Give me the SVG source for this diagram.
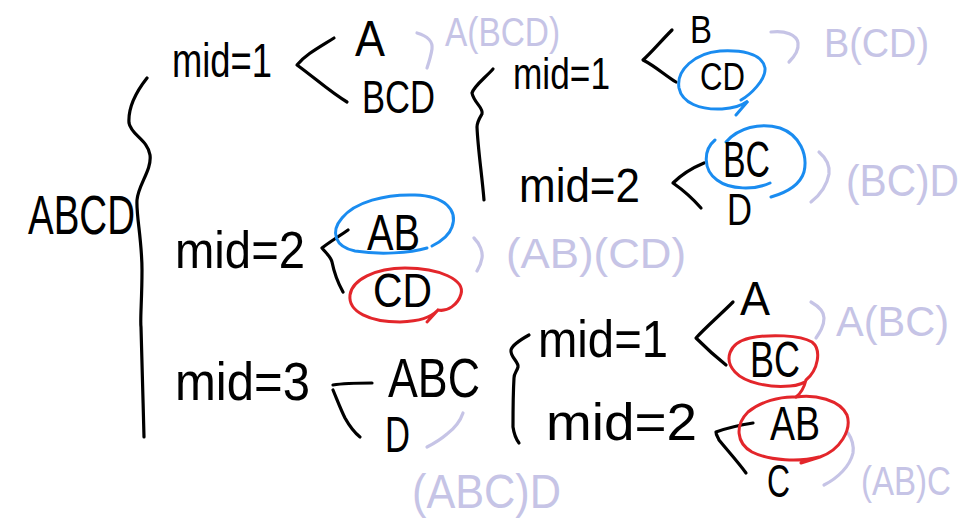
<svg xmlns="http://www.w3.org/2000/svg" width="972" height="519" viewBox="0 0 972 519">
<style>
.t{font-family:"Liberation Sans","DejaVu Sans",sans-serif;fill:#000}
.l{font-family:"Liberation Sans","DejaVu Sans",sans-serif;fill:#c6c4e6}
.s{fill:none;stroke:#000;stroke-width:3.2;stroke-linecap:round;stroke-linejoin:round}
.p{fill:none;stroke:#c6c4e6;stroke-width:3.2;stroke-linecap:round;stroke-linejoin:round}
.b{fill:none;stroke:#1a8cf0;stroke-width:3;stroke-linecap:round}
.r{fill:none;stroke:#e3262b;stroke-width:3;stroke-linecap:round}
</style>
<rect width="972" height="519" fill="#fff"/>
<g id="connectors">
<path class="s" d="M147,78 C136,92 128,108 129,123 C131,135 148,140 150,155 C152,170 138,185 137,200 C136,215 142,240 142,270 C142,300 140,320 141,327 C142,360 143,400 144,437"/>
<path class="s" d="M334,38 C318,48 305,55 297,65 C315,78 330,92 347,102"/>
<path class="s" d="M493,69 C485,78 474,86 472,93 C474,103 484,108 482,114 C479,119 477,122 477,127 C478,150 482,175 484,200"/>
<path class="s" d="M672,30 C660,42 652,52 643,60 C655,66 666,76 676,82"/>
<path class="s" d="M704,163 C692,168 680,176 673,183 C683,190 694,200 701,208"/>
<path class="s" d="M348,230 C338,237 328,243 322,248 C326,253 331,257 332,262 C334,272 338,283 343,292"/>
<path class="s" d="M333,385 C345,383 358,383 372,383"/>
<path class="s" d="M333,390 C338,402 341,410 345,418 C350,427 355,433 360,437"/>
<path class="s" d="M529,335 C520,340 512,345 511,350 C510,357 519,362 518,367 C517,371 514,373 514,378 C513,395 513,412 513,427 C514,434 516,439 519,443"/>
<path class="s" d="M733,302 C720,315 705,328 696,338 C706,348 716,357 726,365"/>
<path class="s" d="M753,423 C740,425 727,428 716,432 C716,435 718,437 719,440 C728,451 738,462 746,473"/>
<path class="p" d="M417,33 C428,36 433,42 432,49 C431,56 429,62 427,68"/>
<path class="p" d="M771,32 C785,30 797,35 798,43 C799,50 794,57 789,62"/>
<path class="p" d="M819,152 C826,158 830,166 829,174 C827,185 820,195 811,202"/>
<path class="p" d="M474,238 C480,244 483,252 482,258 C481,264 479,268 477,271"/>
<path class="p" d="M811,302 C818,306 824,311 824,318 C824,326 820,332 816,338"/>
<path class="p" d="M463,413 C460,422 455,428 447,434 C440,440 433,444 427,447"/>
<path class="p" d="M848,433 C852,439 854,446 853,453 C850,466 838,478 824,485"/>
</g>
<g id="highlights">
<path class="b" d="M741,100 C750,95 766,80 765,68 C762,52 738,50 720,51 C695,53 676,70 679,88 C682,103 700,110 722,109 C736,108 744,104 748,101 L736,115"/>
<path class="b" d="M726,142 C738,128 760,122 780,128 C800,135 808,155 804,172 C800,185 785,193 771,197 M770,183 C755,190 730,190 717,180 C703,170 703,150 715,140"/>
<path class="b" d="M427,248 C410,253 380,255 355,251 C335,247 330,232 342,218 C355,202 385,194 415,195 C445,196 458,210 452,227 C449,236 440,242 432,246"/>
<path class="r" d="M438,310 C430,318 420,321 400,322 C370,322 348,312 350,295 C352,280 375,268 405,268 C440,268 465,280 461,294 C458,305 447,312 438,310 L427,322"/>
<path class="r" d="M806,380 C818,370 822,350 812,342 C800,335 770,334 750,338 C728,343 724,360 735,372 C745,383 770,388 790,386 C798,386 806,382 806,380 C804,388 800,394 796,397"/>
<path class="r" d="M796,397 C815,394 840,400 847,415 C852,430 840,450 820,457 L801,463 M819,457 C800,462 770,461 752,452 C736,443 735,425 748,412 C760,402 780,396 796,397"/>
</g>
<g id="n-ABCD"><text class="t" x="28" y="234" font-size="56" textLength="107" lengthAdjust="spacingAndGlyphs">ABCD</text></g>
<g id="n-mid1-top"><text class="t" x="172" y="77" font-size="48" textLength="100" lengthAdjust="spacingAndGlyphs">mid=1</text></g>
<g id="n-A-top"><text class="t" x="355" y="56" font-size="50" textLength="30" lengthAdjust="spacingAndGlyphs">A</text></g>
<g id="n-BCD"><text class="t" x="362" y="113" font-size="46" textLength="73" lengthAdjust="spacingAndGlyphs">BCD</text></g>
<g id="n-mid1-bcd"><text class="t" x="513" y="89" font-size="44" textLength="97" lengthAdjust="spacingAndGlyphs">mid=1</text></g>
<g id="n-B"><text class="t" x="690" y="43" font-size="38" textLength="22" lengthAdjust="spacingAndGlyphs">B</text></g>
<g id="n-CD-blue"><text class="t" x="700" y="90" font-size="38" textLength="45" lengthAdjust="spacingAndGlyphs">CD</text></g>
<g id="n-mid2-bcd"><text class="t" x="519" y="202" font-size="48" textLength="121" lengthAdjust="spacingAndGlyphs">mid=2</text></g>
<g id="n-BC-blue"><text class="t" x="723" y="177" font-size="50" textLength="47" lengthAdjust="spacingAndGlyphs">BC</text></g>
<g id="n-D-bcd"><text class="t" x="727" y="225" font-size="44" textLength="25" lengthAdjust="spacingAndGlyphs">D</text></g>
<g id="n-mid2-main"><text class="t" x="175" y="268" font-size="52" textLength="130" lengthAdjust="spacingAndGlyphs">mid=2</text></g>
<g id="n-AB-blue"><text class="t" x="367" y="250" font-size="50" textLength="53" lengthAdjust="spacingAndGlyphs">AB</text></g>
<g id="n-CD-red"><text class="t" x="373" y="307" font-size="48" textLength="59" lengthAdjust="spacingAndGlyphs">CD</text></g>
<g id="n-mid3"><text class="t" x="175" y="400" font-size="54" textLength="135" lengthAdjust="spacingAndGlyphs">mid=3</text></g>
<g id="n-ABC"><text class="t" x="388" y="397" font-size="56" textLength="92" lengthAdjust="spacingAndGlyphs">ABC</text></g>
<g id="n-D-main"><text class="t" x="385" y="452" font-size="50" textLength="25" lengthAdjust="spacingAndGlyphs">D</text></g>
<g id="n-mid1-abc"><text class="t" x="538" y="357" font-size="52" textLength="130" lengthAdjust="spacingAndGlyphs">mid=1</text></g>
<g id="n-A-abc"><text class="t" x="740" y="315" font-size="48" textLength="30" lengthAdjust="spacingAndGlyphs">A</text></g>
<g id="n-BC-red"><text class="t" x="750" y="377" font-size="50" textLength="50" lengthAdjust="spacingAndGlyphs">BC</text></g>
<g id="n-mid2-abc"><text class="t" x="546" y="440" font-size="52" textLength="151" lengthAdjust="spacingAndGlyphs">mid=2</text></g>
<g id="n-AB-red"><text class="t" x="770" y="440" font-size="48" textLength="50" lengthAdjust="spacingAndGlyphs">AB</text></g>
<g id="n-C"><text class="t" x="767" y="497" font-size="46" textLength="23" lengthAdjust="spacingAndGlyphs">C</text></g>
<g id="r-A-BCD"><text class="l" x="445" y="46" font-size="40" textLength="115" lengthAdjust="spacingAndGlyphs">A(BCD)</text></g>
<g id="r-B-CD"><text class="l" x="824" y="57" font-size="40" textLength="105" lengthAdjust="spacingAndGlyphs">B(CD)</text></g>
<g id="r-BC-D"><text class="l" x="846" y="196" font-size="44" textLength="113" lengthAdjust="spacingAndGlyphs">(BC)D</text></g>
<g id="r-AB-CD"><text class="l" x="506" y="268" font-size="42" textLength="180" lengthAdjust="spacingAndGlyphs">(AB)(CD)</text></g>
<g id="r-A-BC"><text class="l" x="836" y="336" font-size="42" textLength="113" lengthAdjust="spacingAndGlyphs">A(BC)</text></g>
<g id="r-ABC-D"><text class="l" x="412" y="508" font-size="48" textLength="149" lengthAdjust="spacingAndGlyphs">(ABC)D</text></g>
<g id="r-AB-C"><text class="l" x="861" y="495" font-size="40" textLength="90" lengthAdjust="spacingAndGlyphs">(AB)C</text></g>
</svg>
